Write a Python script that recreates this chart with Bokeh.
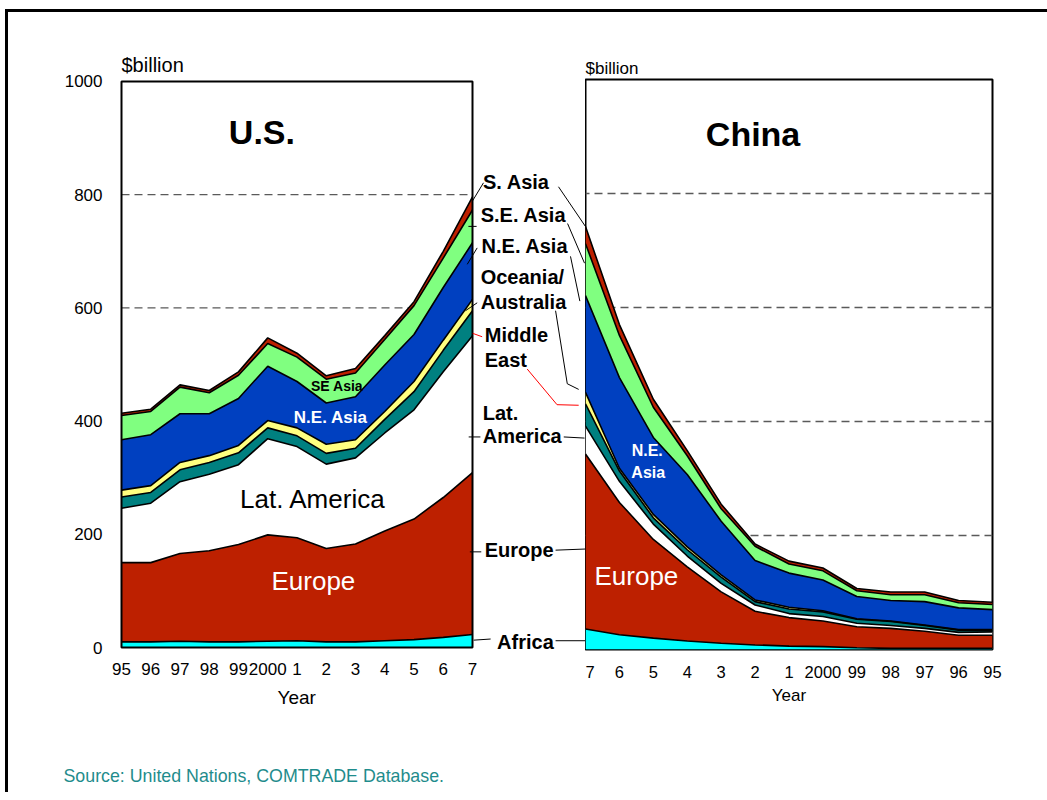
import numpy as np
from bokeh.plotting import figure
from bokeh.models import ColumnDataSource, Range1d, FixedTicker, Title
from bokeh.layouts import row, column
from bokeh.core.properties import value
from bokeh.embed import file_html
from bokeh.resources import INLINE

# ---------------- data ----------------
years = [1995, 1996, 1997, 1998, 1999, 2000, 2001, 2002, 2003, 2004, 2005, 2006, 2007]
year_labels = ["95", "96", "97", "98", "99", "2000", "1", "2", "3", "4", "5", "6", "7"]
keys = ["africa", "europe", "latam", "mideast", "oceania", "ne_asia", "se_asia", "s_asia"]
region_names = ["Africa", "Europe", "Lat. America", "Middle East", "Oceania/Australia",
                "N.E. Asia", "S.E. Asia", "S. Asia"]

# U.S. trade ($billion) by partner region
us_africa = [10, 10, 11, 10, 10, 11, 12, 10, 10, 12, 14, 18, 23]
us_europe = [140, 140, 155, 161, 172, 188, 182, 165, 173, 194, 213, 247, 286]
us_latam = [96, 105, 127, 135, 141, 170, 161, 149, 152, 173, 193, 222, 242]
us_mideast = [20, 19, 21, 21, 21, 19, 19, 19, 17, 24, 32, 38, 44]
us_oceania = [12, 12, 13, 12, 13, 13, 14, 16, 15, 14, 18, 18, 20]
us_ne_asia = [89, 90, 86, 74, 83, 96, 82, 73, 76, 82, 83, 93, 100]
us_se_asia = [43, 41, 47, 37, 41, 40, 43, 42, 42, 45, 51, 52, 58]
us_s_asia = [4, 4, 4, 4, 6, 10, 7, 6, 8, 7, 7, 12, 23]

# China trade ($billion) by partner region
cn_africa = [2, 2, 2, 2, 3, 5, 6, 8, 11, 15, 20, 26, 36]
cn_europe = [23, 23, 30, 35, 37, 45, 50, 59, 90, 130, 173, 232, 307]
cn_latam = [6, 5, 5, 5, 6, 8, 7, 11, 15, 19, 27, 37, 49]
cn_mideast = [3, 4, 5, 7, 7, 8, 8, 6, 11, 11, 11, 18, 39]
cn_oceania = [1, 1, 1, 1, 1, 2, 3, 3, 4, 5, 6, 5, 20]
cn_ne_asia = [35, 38, 41, 36, 39, 54, 60, 69, 94, 127, 135, 159, 170]
cn_se_asia = [9, 9, 12, 10, 10, 16, 16, 25, 22, 33, 53, 74, 91]
cn_s_asia = [4, 4, 5, 5, 4, 5, 5, 4, 8, 9, 14, 19, 30]

y_ticks = [0, 200, 400, 600, 800, 1000]
grid_values = [200, 400, 600, 800]
source_note = "Source:  United Nations, COMTRADE Database."

# ---------------- styles ----------------
FONT = "Liberation Sans"
colors = ["#00FFFF", "#BD2000", "#FFFFFF", "#008080", "#FFFF80", "#0040C0", "#80FF80", "#BD2000"]
GRID_COLOR = "#5a5a5a"

us_series = [us_africa, us_europe, us_latam, us_mideast, us_oceania, us_ne_asia, us_se_asia, us_s_asia]
cn_series = [cn_africa, cn_europe, cn_latam, cn_mideast, cn_oceania, cn_ne_asia, cn_se_asia, cn_s_asia]


def build_source(series):
    d = {"year": years}
    for k, s in zip(keys, series):
        d[k] = s
    return ColumnDataSource(d)


def draw_stack(p, series):
    p.segment(x0=years[0], x1=years[-1], y0=grid_values, y1=grid_values,
              line_color=GRID_COLOR, line_width=1.3, line_dash="8 5")
    p.varea_stack(stackers=keys, x="year", color=colors, source=build_source(series))
    cum = np.cumsum(np.array(series, dtype=float), axis=0)
    for c in cum:
        p.line(years, c, line_color="black", line_width=1.6)


def style_axis(ax, size):
    ax.major_label_text_font = FONT
    ax.major_label_text_font_size = size
    ax.major_label_text_color = "black"
    ax.major_tick_line_color = None
    ax.minor_tick_line_color = None
    ax.axis_line_color = None


def make_title(text, size, align, offset, standoff, color="black"):
    return Title(text=text, align=align, offset=offset, standoff=standoff,
                 text_font=FONT, text_font_size=size, text_font_style="normal",
                 text_color=color)


PANEL_H = 709

# ---------------- U.S. panel (includes the label gutter) ----------------
us = figure(width=577, height=PANEL_H,
            x_range=Range1d(1995 - 2 / 29.25, 1995 + 464 / 29.25),
            y_range=Range1d(-3.5, 1003.5),
            output_backend="svg", toolbar_location=None,
            min_border_left=111, min_border_right=0, min_border_top=65,
            min_border_bottom=PANEL_H - 65 - 574,
            x_axis_location="below", y_axis_location="left",
            outline_line_color=None, background_fill_color="white", border_fill_color="white")
us.xgrid.visible = False
us.ygrid.visible = False
draw_stack(us, us_series)
us.quad(left=years[0], right=years[-1], bottom=0, top=1000, fill_color=None,
        line_color="black", line_width=2)

us.yaxis.ticker = FixedTicker(ticks=y_ticks)
style_axis(us.yaxis[0], "17px")
us.yaxis.major_label_standoff = 11
us.xaxis.ticker = FixedTicker(ticks=years)
us.xaxis.major_label_overrides = dict(zip(years, year_labels))
style_axis(us.xaxis[0], "17px")
us.xaxis.major_label_standoff = 7

# in-chart labels
us.text(x=[1999.8], y=[910], text=["U.S."], text_font=value(FONT), text_font_size="34px",
        text_font_style="bold", text_align="center", text_baseline="middle", text_color="black")
us.text(x=[2001.55], y=[263], text=["Lat. America"], text_font=value(FONT), text_font_size="26px",
        text_align="center", text_baseline="middle", text_color="black")
us.text(x=[2001.56], y=[118], text=["Europe"], text_font=value(FONT), text_font_size="26px",
        text_align="center", text_baseline="middle", text_color="white")
us.text(x=[2002.15], y=[406], text=["N.E. Asia"], text_font=value(FONT), text_font_size="17px",
        text_font_style="bold", text_align="center", text_baseline="middle", text_color="white")
us.text(x=[2002.37], y=[462], text=["SE Asia"], text_font=value(FONT), text_font_size="14px",
        text_font_style="bold", text_align="center", text_baseline="middle", text_color="black")

# gutter labels between the two charts
gut_x = [2007.36, 2007.28, 2007.31, 2007.28, 2007.28, 2007.42, 2007.42, 2007.35, 2007.35, 2007.42, 2007.84]
gut_y = [822, 764, 709, 655, 611, 552, 508, 414, 374, 172, 9]
gut_t = ["S. Asia", "S.E. Asia", "N.E. Asia", "Oceania/", "Australia", "Middle", "East",
         "Lat.", "America", "Europe", "Africa"]
us.text(x=gut_x, y=gut_y, text=gut_t, text_font=value(FONT), text_font_size="20px",
        text_font_style="bold", text_align="left", text_baseline="middle", text_color="black")

# leader lines (x in U.S. year units, y in $billion)
leaders_black = [
    ([2007.0, 2007.376], [789, 821]),
    ([2009.94, 2010.86], [814, 744]),
    ([2006.86, 2007.14], [744, 744]),
    ([2010.25, 2010.83], [749, 679]),
    ([2006.82, 2007.16], [677, 706]),
    ([2010.35, 2010.67], [691, 612]),
    ([2006.76, 2007.16], [595, 609]),
    ([2009.84, 2010.24, 2010.63], [595, 466, 456]),
    ([2006.87, 2007.27], [372, 372]),
    ([2010.12, 2010.83], [372, 370]),
    ([2006.91, 2007.30], [169, 169]),
    ([2009.84, 2010.86], [172, 174]),
    ([2007.04, 2007.62], [13, 15]),
    ([2009.84, 2010.86], [12, 12]),
]
for xs, ys in leaders_black:
    us.line(xs, ys, line_color="black", line_width=1)
leaders_red = [
    ([2007.01, 2007.33], [555, 549]),
    ([2008.87, 2009.89, 2010.63], [492, 429, 428]),
]
for xs, ys in leaders_red:
    us.line(xs, ys, line_color="#FF0000", line_width=1)

us.add_layout(make_title("$billion", "20px", "left", 2, 7), "above")
us.add_layout(make_title("Year", "19px", "left", 158, 14), "below")

# ---------------- China panel ----------------
cn = figure(width=462, height=PANEL_H,
            x_range=Range1d(2007, 1995), y_range=Range1d(0, 1000),
            output_backend="svg", toolbar_location=None,
            min_border_left=0, min_border_right=55, min_border_top=67,
            min_border_bottom=PANEL_H - 67 - 570,
            x_axis_location="below", y_axis_location=None,
            outline_line_color="black", outline_line_width=2,
            background_fill_color="white", border_fill_color="white")
cn.xgrid.visible = False
cn.ygrid.visible = False
draw_stack(cn, cn_series)
cn.xaxis.ticker = FixedTicker(ticks=years)
cn.xaxis.major_label_overrides = dict(zip(years, year_labels))
style_axis(cn.xaxis[0], "16.5px")
cn.xaxis.major_label_standoff = 10
cn.xaxis.axis_label = "Year"
cn.xaxis.axis_label_text_font = FONT
cn.xaxis.axis_label_text_font_size = "17px"
cn.xaxis.axis_label_text_font_style = "normal"
cn.xaxis.axis_label_text_color = "black"
cn.xaxis.axis_label_standoff = 5

cn.text(x=[2002.06], y=[905], text=["China"], text_font=value(FONT), text_font_size="34px",
        text_font_style="bold", text_align="center", text_baseline="middle", text_color="black")
cn.text(x=[2005.5], y=[129], text=["Europe"], text_font=value(FONT), text_font_size="26px",
        text_align="center", text_baseline="middle", text_color="white")
cn.text(x=[2005.18, 2005.15], y=[349, 311], text=["N.E.", "Asia"], text_font=value(FONT),
        text_font_size="16px", text_font_style="bold", text_align="center",
        text_baseline="middle", text_color="white")

cn.add_layout(make_title("$billion", "17px", "left", 0, 4), "above")

# ---------------- footer with the source note ----------------
FOOT_W, FOOT_H = 1039, 71
foot = figure(width=FOOT_W, height=FOOT_H, x_range=Range1d(0, FOOT_W), y_range=Range1d(0, FOOT_H),
              output_backend="svg", toolbar_location=None,
              min_border_left=0, min_border_right=0, min_border_top=0, min_border_bottom=0,
              x_axis_location=None, y_axis_location=None, outline_line_color=None,
              background_fill_color="white", border_fill_color="white")
foot.xgrid.visible = False
foot.ygrid.visible = False
foot.text(x=[55], y=[17], text=[source_note], text_font=value(FONT), text_font_size="17.8px",
          text_align="left", text_baseline="middle", text_color="#1f8c8c")

layout = column(row(us, cn), foot,
                styles={"border-top": "3px solid black", "border-left": "3px solid black",
                        "margin-left": "5px", "margin-top": "9px"})

with open("out.html", "w") as f:
    f.write(file_html(layout, INLINE))
